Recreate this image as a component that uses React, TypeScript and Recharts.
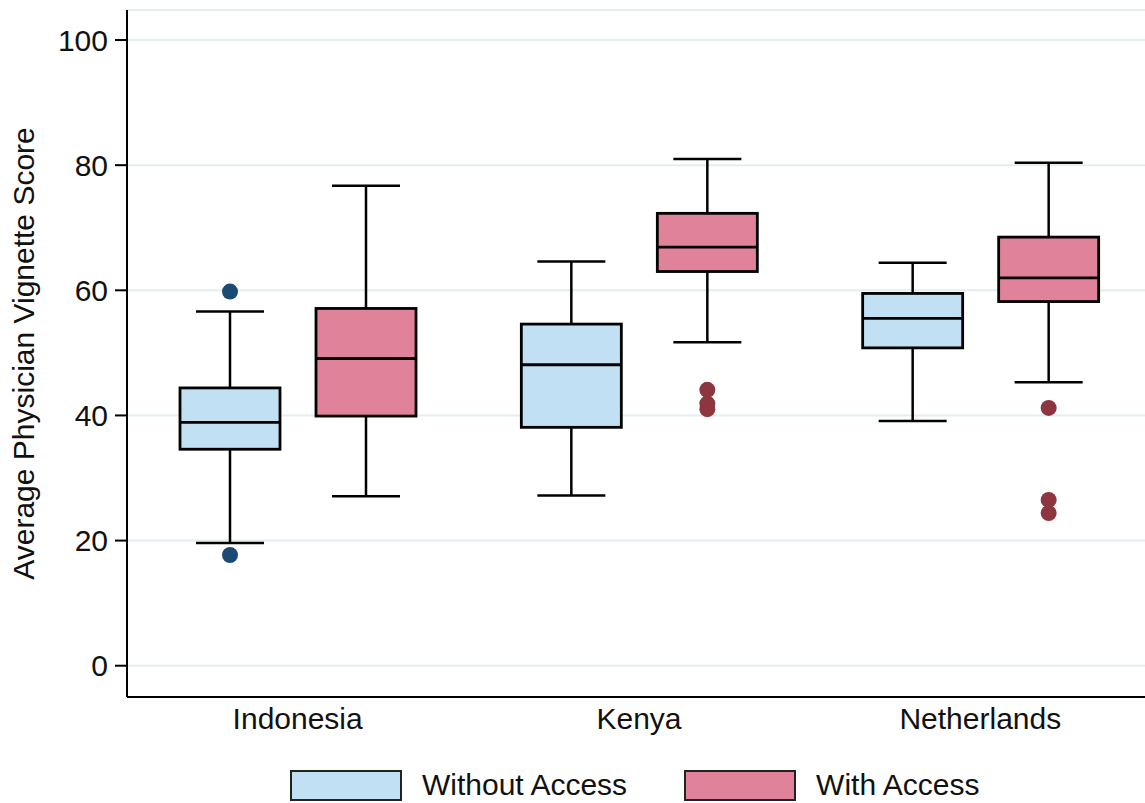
import React from 'react';
import { ComposedChart, Bar, XAxis, YAxis, CartesianGrid } from 'recharts';

// Countries on the x axis
const categories = ['Indonesia', 'Kenya', 'Netherlands'];

// Without access: box plot stats per country
const withoutLow = [19.6, 27.2, 39.1];
const withoutQ1 = [34.6, 38.1, 50.8];
const withoutMedian = [38.9, 48.1, 55.5];
const withoutQ3 = [44.4, 54.6, 59.5];
const withoutHigh = [56.6, 64.6, 64.4];
const withoutOutliers = [[59.8, 17.7], [], []];

// With access: box plot stats per country
const withLow = [27.1, 51.7, 45.3];
const withQ1 = [39.9, 63.0, 58.2];
const withMedian = [49.1, 66.9, 62.0];
const withQ3 = [57.1, 72.3, 68.5];
const withHigh = [76.7, 81.0, 80.4];
const withOutliers = [[], [44.1, 41.9, 41.0], [41.2, 26.5, 24.4]];

const yTicks = [0, 20, 40, 60, 80, 100];

const FONT = '"Liberation Sans", Arial, Helvetica, sans-serif';
const BLUE = '#c2e0f3';
const PINK = '#e0839a';
const BLUE_DOT = '#1b4a73';
const RED_DOT = '#8e3640';

const data = categories.map((name, i) => ({
  name,
  without: {
    low: withoutLow[i], q1: withoutQ1[i], median: withoutMedian[i],
    q3: withoutQ3[i], high: withoutHigh[i], outliers: withoutOutliers[i],
  },
  with: {
    low: withLow[i], q1: withQ1[i], median: withMedian[i],
    q3: withQ3[i], high: withHigh[i], outliers: withOutliers[i],
  },
}));

// draws one box: the bar spans low..high whisker, the rest is mapped linearly inside it
const makeBoxShape = (key: 'without' | 'with', fill: string, dotColor: string) => (props: any) => {
  const { x, y, width, height, payload } = props;
  const s = payload[key];
  const top = height >= 0 ? y : y + height;
  const h = Math.abs(height);
  const px = (v: number) => top + (h * (s.high - v)) / (s.high - s.low);
  const cx = x + width / 2;
  const cap = width * 0.34;
  return (
    <g>
      <line x1={cx} x2={cx} y1={px(s.high)} y2={px(s.q3)} stroke="#000" strokeWidth={2.5} />
      <line x1={cx} x2={cx} y1={px(s.q1)} y2={px(s.low)} stroke="#000" strokeWidth={2.5} />
      <line x1={cx - cap} x2={cx + cap} y1={px(s.high)} y2={px(s.high)} stroke="#000" strokeWidth={2.5} />
      <line x1={cx - cap} x2={cx + cap} y1={px(s.low)} y2={px(s.low)} stroke="#000" strokeWidth={2.5} />
      <rect x={x} y={px(s.q3)} width={width} height={px(s.q1) - px(s.q3)} fill={fill} stroke="#000" strokeWidth={2.8} />
      <line x1={x} x2={x + width} y1={px(s.median)} y2={px(s.median)} stroke="#000" strokeWidth={2.8} />
      {s.outliers.map((v: number, j: number) => (
        <circle key={j} cx={cx} cy={px(v)} r={8} fill={dotColor} />
      ))}
    </g>
  );
};

const LegendItem = ({ color, label }: { color: string; label: string }) => (
  <div style={{ display: 'flex', alignItems: 'center' }}>
    <div style={{ width: 108, height: 27, background: color, border: '2px solid #222' }} />
    <span style={{ marginLeft: 20, fontSize: 30, fontFamily: FONT, color: '#111' }}>{label}</span>
  </div>
);

export default function App() {
  return (
    <div style={{ position: 'fixed', left: 0, top: 0, width: 1145, height: 803, overflow: 'hidden', background: '#fff' }}>
      <ComposedChart
        width={1151}
        height={803}
        data={data}
        margin={{ top: 10, right: 0, bottom: 56, left: 0 }}
        barSize={100}
        barGap={36}
      >
        <CartesianGrid vertical={false} stroke="#e4eef1" strokeWidth={2} />
        <XAxis
          dataKey="name"
          tickLine={false}
          tickSize={9}
          tickMargin={2}
          height={50}
          axisLine={{ stroke: '#000', strokeWidth: 2 }}
          tick={{ fill: '#111', fontSize: 30, fontFamily: FONT }}
        />
        <YAxis
          domain={[-5, 104.8]}
          ticks={yTicks}
          width={127}
          tickSize={12}
          tickMargin={7}
          axisLine={{ stroke: '#000', strokeWidth: 2 }}
          tickLine={{ stroke: '#000', strokeWidth: 2 }}
          tick={{ fill: '#111', fontSize: 30, fontFamily: FONT }}
          label={{
            value: 'Average Physician Vignette Score',
            angle: -90,
            position: 'center',
            dx: -40,
            style: { fill: '#111', fontSize: 30, fontFamily: FONT },
          }}
        />
        <Bar
          dataKey={(d: any) => [d.without.low, d.without.high]}
          isAnimationActive={false}
          shape={makeBoxShape('without', BLUE, BLUE_DOT)}
        />
        <Bar
          dataKey={(d: any) => [d.with.low, d.with.high]}
          isAnimationActive={false}
          shape={makeBoxShape('with', PINK, RED_DOT)}
        />
      </ComposedChart>
      <div style={{ position: 'absolute', left: 290, top: 768, display: 'flex', gap: 57 }}>
        <LegendItem color={BLUE} label="Without Access" />
        <LegendItem color={PINK} label="With Access" />
      </div>
    </div>
  );
}
